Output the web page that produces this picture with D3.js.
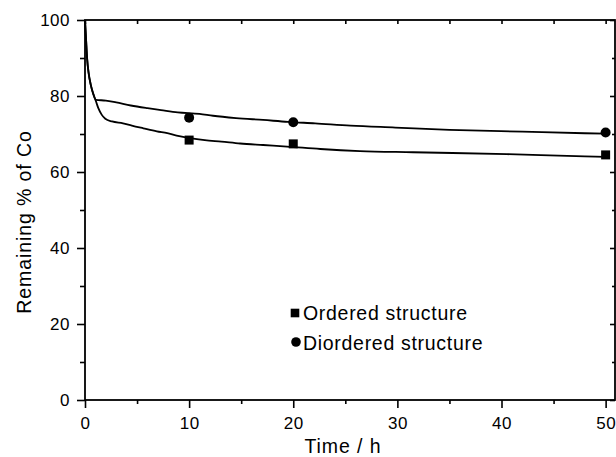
<!DOCTYPE html>
<html>
<head>
<meta charset="utf-8">
<script src="https://cdn.jsdelivr.net/npm/d3@7"></script>
<style>
  html, body { margin: 0; padding: 0; background: #fff; }
  svg { display: block; }
  text { font-family: "Liberation Sans", Arial, Helvetica, sans-serif; fill: #000; }
</style>
</head>
<body>
<div id="chart"></div>
<script>
// measured points
var orderedTime = [10, 20, 50];
var orderedValue = [68.4, 67.4, 64.5];
var disorderedTime = [10, 20, 50];
var disorderedValue = [74.3, 73.1, 70.4];

// fitted curves
var orderedFitTime = [0, 0.1, 0.2, 0.35, 0.55, 0.8, 1.05, 1.28, 1.6, 1.95, 2.6, 3.65, 4.5, 5.6, 6.9, 7.9, 8.8, 10.4, 11.5, 13.1, 14.9, 17.1, 19.4, 22.6, 26.4, 31.5, 40.5, 48, 50];
var orderedFitValue = [100, 95, 90, 86, 83, 80.5, 78.6, 76.8, 75.1, 74.0, 73.3, 72.8, 72.2, 71.5, 70.7, 70.2, 69.6, 68.8, 68.4, 68.0, 67.5, 67.1, 66.7, 66.05, 65.5, 65.2, 64.7, 64.1, 64.0];
var disorderedFitTime = [0, 0.1, 0.2, 0.35, 0.55, 0.8, 1.05, 2.0, 3.0, 4.4, 6.0, 7.3, 8.9, 11, 12.3, 14.5, 17.1, 19.5, 22.1, 25.5, 29.8, 35, 42, 48, 50];
var disorderedFitValue = [100, 95, 90, 86, 83, 80.5, 79.0, 78.8, 78.3, 77.5, 76.8, 76.3, 75.7, 75.3, 74.8, 74.2, 73.7, 73.2, 72.8, 72.2, 71.7, 71.1, 70.6, 70.2, 70.1];

var xMajorTicks = [0, 10, 20, 30, 40, 50];
var xMinorTicks = [5, 15, 25, 35, 45];
var yMajorTicks = [0, 20, 40, 60, 80, 100];
var yMinorTicks = [10, 30, 50, 70, 90];
var legendLabels = ["Ordered structure", "Diordered structure"];

;(function (d3) {
  'use strict';

  var width = 616, height = 457;
  var x = d3.scaleLinear().domain([0, 50.9]).range([85, 615]);
  var y = d3.scaleLinear().domain([0, 100]).range([400, 20]);

  var svg = d3.select("#chart").append("svg")
    .attr("width", width)
    .attr("height", height);

  var zip = function (ts, vs) {
    return ts.map(function (t, i) { return { t: t, v: vs[i] }; });
  };

  var styleAxis = function (g) {
    g.select(".domain").remove();
    g.selectAll(".tick line").attr("stroke", "#000").attr("stroke-width", 1.6);
    g.selectAll(".tick text")
      .attr("font-size", 17)
      .attr("letter-spacing", "0.5px")
      .attr("font-family", "Liberation Sans, Arial, sans-serif");
  };

  // bottom axis
  svg.append("g").attr("transform", "translate(0," + y(0) + ")")
    .call(d3.axisBottom(x).tickValues(xMajorTicks).tickSize(8).tickPadding(9).tickFormat(d3.format("d")))
    .call(styleAxis);
  svg.append("g").attr("transform", "translate(0," + y(0) + ")")
    .call(d3.axisBottom(x).tickValues(xMinorTicks).tickSize(4).tickFormat(""))
    .call(styleAxis);

  // left axis
  svg.append("g").attr("transform", "translate(" + x(0) + ",0)")
    .call(d3.axisLeft(y).tickValues(yMajorTicks).tickSize(8).tickPadding(7).tickFormat(d3.format("d")))
    .call(styleAxis);
  svg.append("g").attr("transform", "translate(" + x(0) + ",0)")
    .call(d3.axisLeft(y).tickValues(yMinorTicks).tickSize(5).tickFormat(""))
    .call(styleAxis);

  // top and right: inward ticks, no labels
  svg.append("g").attr("transform", "translate(0," + y(100) + ")")
    .call(d3.axisTop(x).tickValues(xMajorTicks.concat(xMinorTicks)).tickSize(-4).tickFormat(""))
    .call(styleAxis);
  svg.append("g").attr("transform", "translate(" + x.range()[1] + ",0)")
    .call(d3.axisRight(y).tickValues(yMajorTicks).tickSize(-5).tickFormat(""))
    .call(styleAxis);
  svg.append("g").attr("transform", "translate(" + x.range()[1] + ",0)")
    .call(d3.axisRight(y).tickValues(yMinorTicks).tickSize(-3).tickFormat(""))
    .call(styleAxis);

  // frame
  svg.append("rect")
    .attr("x", x.range()[0])
    .attr("y", y(100))
    .attr("width", x.range()[1] - x.range()[0])
    .attr("height", y(0) - y(100))
    .attr("fill", "none")
    .attr("stroke", "#000")
    .attr("stroke-width", 1.8);

  // fitted lines
  var line = d3.line()
    .x(function (d) { return x(d.t); })
    .y(function (d) { return y(d.v); })
    .curve(d3.curveMonotoneX);

  [zip(orderedFitTime, orderedFitValue), zip(disorderedFitTime, disorderedFitValue)].forEach(function (data) {
    svg.append("path")
      .datum(data)
      .attr("d", line)
      .attr("fill", "none")
      .attr("stroke", "#000")
      .attr("stroke-width", 1.8)
      .attr("stroke-linejoin", "round");
  });

  // markers
  var sq = 9;
  svg.append("g").selectAll("rect")
    .data(zip(orderedTime, orderedValue))
    .enter().append("rect")
    .attr("x", function (d) { return x(d.t) - sq / 2; })
    .attr("y", function (d) { return y(d.v) - sq / 2; })
    .attr("width", sq)
    .attr("height", sq)
    .attr("fill", "#000");

  svg.append("g").selectAll("circle")
    .data(zip(disorderedTime, disorderedValue))
    .enter().append("circle")
    .attr("cx", function (d) { return x(d.t); })
    .attr("cy", function (d) { return y(d.v); })
    .attr("r", 5)
    .attr("fill", "#000");

  // legend
  var legend = svg.append("g").attr("transform", "translate(295,313)");
  legend.append("rect")
    .attr("x", -4.3).attr("y", -4.3)
    .attr("width", 8.6).attr("height", 8.6)
    .attr("fill", "#000");
  legend.append("circle")
    .attr("cx", 1).attr("cy", 29)
    .attr("r", 4.8)
    .attr("fill", "#000");
  legend.selectAll("text")
    .data(legendLabels)
    .enter().append("text")
    .attr("x", 8)
    .attr("y", function (d, i) { return 7 + i * 29.5; })
    .attr("font-size", 19.5)
    .attr("letter-spacing", "0.7px")
    .text(function (d) { return d; });

  // axis titles
  svg.append("text")
    .attr("x", 343)
    .attr("y", 453)
    .attr("text-anchor", "middle")
    .attr("font-size", 19.5)
    .attr("letter-spacing", "0.9px")
    .text("Time / h");

  svg.append("text")
    .attr("transform", "translate(31,222) rotate(-90)")
    .attr("text-anchor", "middle")
    .attr("font-size", 19.5)
    .attr("letter-spacing", "0.9px")
    .text("Remaining % of Co");

})(d3);
</script>
</body>
</html>
